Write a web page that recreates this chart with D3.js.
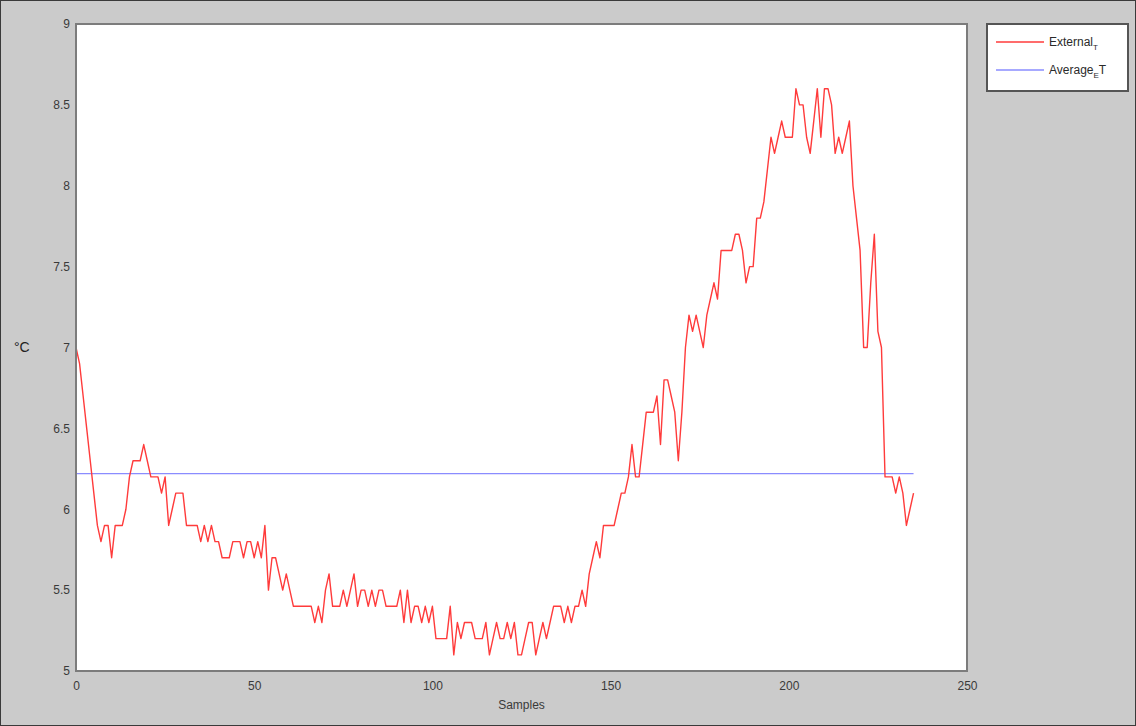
<!DOCTYPE html>
<html>
<head>
<meta charset="utf-8">
<script src="https://cdn.jsdelivr.net/npm/d3@7"></script>
<style>
  html, body { margin: 0; padding: 0; background: #cbcbcb; }
  svg { display: block; font-family: Arial, "Liberation Sans", sans-serif; }
</style>
</head>
<body>
<svg id="chart" width="1136" height="726"></svg>
<script>
// external temperature, one value per sample (°C)
const externalT = [
  7.0, 6.9, 6.7, 6.5, 6.3, 6.1, 5.9, 5.8, 5.9, 5.9,
  5.7, 5.9, 5.9, 5.9, 6.0, 6.2, 6.3, 6.3, 6.3, 6.4,
  6.3, 6.2, 6.2, 6.2, 6.1, 6.2, 5.9, 6.0, 6.1, 6.1,
  6.1, 5.9, 5.9, 5.9, 5.9, 5.8, 5.9, 5.8, 5.9, 5.8,
  5.8, 5.7, 5.7, 5.7, 5.8, 5.8, 5.8, 5.7, 5.8, 5.8,
  5.7, 5.8, 5.7, 5.9, 5.5, 5.7, 5.7, 5.6, 5.5, 5.6,
  5.5, 5.4, 5.4, 5.4, 5.4, 5.4, 5.4, 5.3, 5.4, 5.3,
  5.5, 5.6, 5.4, 5.4, 5.4, 5.5, 5.4, 5.5, 5.6, 5.4,
  5.5, 5.5, 5.4, 5.5, 5.4, 5.5, 5.5, 5.4, 5.4, 5.4,
  5.4, 5.5, 5.3, 5.5, 5.3, 5.4, 5.4, 5.3, 5.4, 5.3,
  5.4, 5.2, 5.2, 5.2, 5.2, 5.4, 5.1, 5.3, 5.2, 5.3,
  5.3, 5.3, 5.2, 5.2, 5.2, 5.3, 5.1, 5.2, 5.3, 5.2,
  5.2, 5.3, 5.2, 5.3, 5.1, 5.1, 5.2, 5.3, 5.3, 5.1,
  5.2, 5.3, 5.2, 5.3, 5.4, 5.4, 5.4, 5.3, 5.4, 5.3,
  5.4, 5.4, 5.5, 5.4, 5.6, 5.7, 5.8, 5.7, 5.9, 5.9,
  5.9, 5.9, 6.0, 6.1, 6.1, 6.2, 6.4, 6.2, 6.2, 6.4,
  6.6, 6.6, 6.6, 6.7, 6.4, 6.8, 6.8, 6.7, 6.6, 6.3,
  6.6, 7.0, 7.2, 7.1, 7.2, 7.1, 7.0, 7.2, 7.3, 7.4,
  7.3, 7.6, 7.6, 7.6, 7.6, 7.7, 7.7, 7.6, 7.4, 7.5,
  7.5, 7.8, 7.8, 7.9, 8.1, 8.3, 8.2, 8.3, 8.4, 8.3,
  8.3, 8.3, 8.6, 8.5, 8.5, 8.3, 8.2, 8.4, 8.6, 8.3,
  8.6, 8.6, 8.5, 8.2, 8.3, 8.2, 8.3, 8.4, 8.0, 7.8,
  7.6, 7.0, 7.0, 7.4, 7.7, 7.1, 7.0, 6.2, 6.2, 6.2,
  6.1, 6.2, 6.1, 5.9, 6.0, 6.1
];
const averageET = 6.22;

const xTicks = [0, 50, 100, 150, 200, 250];
const yTicks = [5, 5.5, 6, 6.5, 7, 7.5, 8, 8.5, 9];
const legendLabels = [
  { main: "External", sub: "T", tail: "", color: "#ff3b3b" },
  { main: "Average", sub: "E", tail: "T", color: "#8a8cff" }
];

const width = 1136, height = 726;
const margin = { top: 24, right: 169, bottom: 55, left: 76 };
const innerW = width - margin.left - margin.right;
const innerH = height - margin.top - margin.bottom;

const svg = d3.select("#chart");

// outer figure frame
svg.append("rect")
  .attr("x", 0.5).attr("y", 0.5)
  .attr("width", width - 1).attr("height", height - 1)
  .attr("fill", "#cbcbcb")
  .attr("stroke", "#3a3a3a").attr("stroke-width", 1);

const x = d3.scaleLinear().domain([0, 250]).range([0, innerW]);
const y = d3.scaleLinear().domain([5, 9]).range([innerH, 0]);

const g = svg.append("g")
  .attr("transform", `translate(${margin.left},${margin.top})`);

// plot background
g.append("rect")
  .attr("width", innerW).attr("height", innerH)
  .attr("fill", "#ffffff");

// axes (labels only, no tick marks)
const xAxis = g.append("g")
  .attr("transform", `translate(0,${innerH})`)
  .call(d3.axisBottom(x).tickValues(xTicks).tickSize(0).tickPadding(10).tickFormat(d3.format("d")));
xAxis.select(".domain").remove();
xAxis.selectAll("text").style("font-size", "12px").attr("fill", "#3a3a3a");

const yAxis = g.append("g")
  .call(d3.axisLeft(y).tickValues(yTicks).tickSize(0).tickPadding(6).tickFormat(d => String(d)));
yAxis.select(".domain").remove();
yAxis.selectAll("text").style("font-size", "12px").attr("fill", "#3a3a3a");

// average line
g.append("path")
  .datum([0, externalT.length - 1])
  .attr("fill", "none")
  .attr("stroke", legendLabels[1].color)
  .attr("stroke-width", 1.2)
  .attr("d", d3.line().x(d => x(d)).y(() => y(averageET)));

// external temperature line
g.append("path")
  .datum(externalT)
  .attr("fill", "none")
  .attr("stroke", legendLabels[0].color)
  .attr("stroke-width", 1.4)
  .attr("stroke-linejoin", "round")
  .attr("d", d3.line().x((d, i) => x(i)).y(d => y(d)));

// plot frame
g.append("rect")
  .attr("width", innerW).attr("height", innerH)
  .attr("fill", "none")
  .attr("stroke", "#7c7c7c").attr("stroke-width", 2);

// axis titles
svg.append("text")
  .attr("x", margin.left + x(125)).attr("y", 709)
  .attr("text-anchor", "middle")
  .style("font-size", "12px").attr("fill", "#3a3a3a")
  .text("Samples");

svg.append("text")
  .attr("x", 14).attr("y", margin.top + y(7) + 4)
  .style("font-size", "14px").attr("fill", "#222")
  .text("°C");

// legend
const legend = svg.append("g").attr("transform", "translate(987,24)");
legend.append("rect")
  .attr("width", 141).attr("height", 67)
  .attr("fill", "#ffffff")
  .attr("stroke", "#555").attr("stroke-width", 2);

const item = legend.selectAll("g.item")
  .data(legendLabels)
  .join("g")
  .attr("class", "item")
  .attr("transform", (d, i) => `translate(0,${18 + i * 28})`);

item.append("line")
  .attr("x1", 9).attr("x2", 57)
  .attr("stroke", d => d.color).attr("stroke-width", 1.4);

const label = item.append("text")
  .attr("x", 62).attr("y", 4)
  .style("font-size", "12px").attr("fill", "#2a2a2a");
label.append("tspan").text(d => d.main);
label.append("tspan").attr("dy", 4).style("font-size", "8px").text(d => d.sub);
label.append("tspan").attr("dy", -4).text(d => d.tail);
</script>
</body>
</html>
